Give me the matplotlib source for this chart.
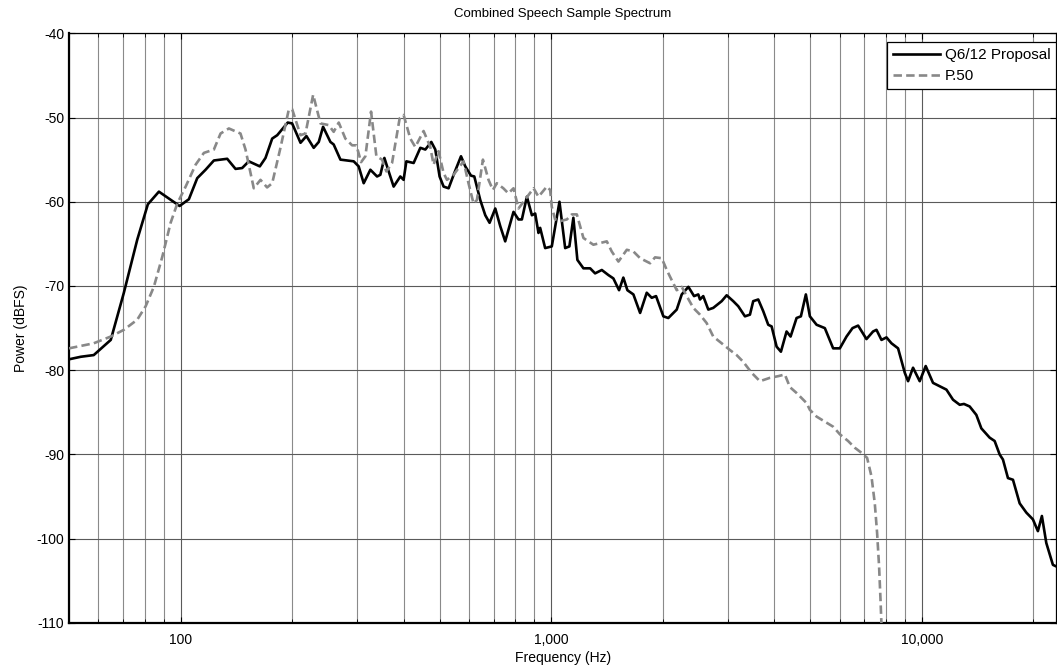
import matplotlib
matplotlib.use("Agg")
import matplotlib.pyplot as plt
from matplotlib.ticker import FixedLocator, LogLocator, NullFormatter

plt.rcParams['font.family'] = ['Liberation Sans', 'DejaVu Sans']
plt.rcParams['axes.unicode_minus'] = False

# Q6/12 proposal spectrum: frequency (Hz) and power (dBFS)
q6_freq = [50, 53.8, 58.3, 64.8, 70.3, 76.4, 81.6, 87.4, 99.4, 105.3, 110.9, 116.8,
           123, 133.6, 140.7, 146.6, 152.8, 163.6, 169.5, 176.7, 182.3, 194.6, 200,
           210.7, 218.6, 228.7, 236, 242.4, 253.7, 258.9, 270, 293.2, 302.4, 312,
           325.2, 339, 346, 354.8, 364.4, 375.8, 391.7, 399.8, 406.7, 425.5, 443.6,
           457.6, 474.9, 486.8, 500, 512.6, 528.8, 547.8, 571.1, 586.5, 607.7, 620.3,
           643.8, 664.1, 682.1, 706.7, 728.9, 751.6, 791.4, 816.4, 833.7, 860, 887.2,
           905.6, 924.3, 934, 963.4, 1004, 1053, 1091, 1120, 1148, 1177, 1222, 1274,
           1314, 1370, 1427, 1472, 1525, 1566, 1606, 1667, 1738, 1811, 1868, 1919,
           2008, 2071, 2182, 2251, 2346, 2430, 2495, 2521, 2573, 2655, 2738, 2885,
           2976, 3100, 3198, 3334, 3439, 3510, 3621, 3736, 3853, 3935, 4059, 4169,
           4318, 4427, 4595, 4720, 4868, 4991, 5203, 5477, 5767, 6012, 6267, 6505,
           6735, 7094, 7391, 7549, 7787, 8033, 8286, 8633, 9000, 9187, 9475, 9876,
           10250, 10727, 11183, 11658, 12147, 12662, 13000, 13470, 14040, 14484,
           15250, 15732, 16229, 16565, 17089, 17629, 18378, 19157, 19953, 20583,
           21100, 21684, 22594, 23100]
q6_db = [-78.7, -78.4, -78.2, -76.4, -70.8, -64.5, -60.3, -58.8, -60.5, -59.7, -57.2,
         -56.2, -55.1, -54.9, -56.1, -56.0, -55.2, -55.8, -54.8, -52.5, -52.1, -50.6,
         -50.7, -53.0, -52.2, -53.6, -52.9, -51.1, -52.9, -53.2, -55.0, -55.2, -55.8,
         -57.8, -56.2, -57.0, -56.8, -54.8, -56.4, -58.2, -57.0, -57.4, -55.2, -55.4,
         -53.6, -53.8, -52.9, -53.8, -57.0, -58.2, -58.4, -56.6, -54.6, -55.8, -56.9,
         -57.0, -59.8, -61.6, -62.5, -60.8, -62.9, -64.7, -61.2, -62.1, -62.1, -59.4,
         -61.6, -61.4, -63.7, -63.1, -65.5, -65.3, -60.0, -65.5, -65.3, -61.9, -66.9,
         -67.9, -67.9, -68.5, -68.1, -68.7, -69.1, -70.5, -69.0, -70.5, -71.0, -73.2,
         -70.8, -71.4, -71.2, -73.6, -73.8, -72.8, -71.0, -70.1, -71.2, -71.0, -71.6,
         -71.2, -72.8, -72.6, -71.8, -71.1, -71.8, -72.4, -73.6, -73.4, -71.8, -71.6,
         -73.0, -74.6, -74.8, -77.2, -77.8, -75.4, -76.0, -73.8, -73.6, -71.0, -73.6,
         -74.6, -75.0, -77.4, -77.4, -76.0, -75.0, -74.7, -76.3, -75.4, -75.2, -76.4,
         -76.1, -76.8, -77.4, -80.3, -81.3, -79.7, -81.3, -79.5, -81.5, -81.9, -82.3,
         -83.5, -84.1, -84.0, -84.3, -85.3, -86.9, -88.0, -88.4, -90.0, -90.6, -92.8,
         -93.0, -95.8, -96.9, -97.7, -99.1, -97.3, -100.5, -103.1, -103.3]

# ITU-T P.50 spectrum
p50_freq = [50, 58.3, 64.8, 70.3, 76.4, 80.5, 84.7, 89.3, 94, 98, 103.2, 109.8, 115.6,
            123, 128.2, 135, 145.1, 149.7, 157.6, 164.3, 171.2, 176.7, 186, 195.8,
            200, 210.7, 217.3, 227.9, 238.5, 251, 258.9, 267.2, 278.4, 290.3, 298.2,
            307, 315.3, 326.6, 337.6, 349.8, 359.2, 372.1, 390.1, 399.8, 416.8,
            429.9, 452.6, 471.9, 481.6, 496.8, 512.6, 523.5, 545.4, 580.1, 598.4,
            617.3, 630.4, 654.4, 677.6, 696.4, 713.4, 743, 766.4, 791.4, 816.4,
            842.1, 896.4, 924.3, 973.6, 993.8, 1004, 1025, 1057.5, 1102.5, 1137,
            1173, 1222, 1300, 1356, 1413, 1457, 1519, 1600, 1667, 1738, 1849, 1907,
            1988, 2051, 2115, 2182, 2251, 2322, 2419, 2521, 2628, 2738, 2885, 3037,
            3166, 3299, 3475, 3659, 3894, 4101, 4272, 4408, 4595, 4890, 4991, 5203,
            5477, 5767, 6012, 6329, 6598, 6878, 7122, 7318, 7470, 7578, 7673, 7740,
            7787, 7830]
p50_db = [-77.4, -76.8, -76.0, -75.2, -74.0, -72.4, -70.1, -66.5, -62.5, -60.2, -58.2,
          -55.6, -54.2, -53.8, -51.9, -51.3, -51.9, -53.8, -58.4, -57.4, -58.3, -57.8,
          -53.6, -49.1, -49.0, -52.1, -51.9, -47.3, -50.7, -50.9, -51.7, -50.6, -52.5,
          -53.3, -53.3, -55.3, -54.6, -49.3, -54.6, -55.0, -56.4, -55.4, -50.1, -49.7,
          -52.5, -53.5, -51.6, -53.5, -55.6, -54.0, -56.6, -57.4, -56.8, -55.2, -57.8,
          -60.2, -59.8, -55.0, -57.4, -58.6, -57.8, -58.4, -59.0, -58.4, -60.8, -60.0,
          -58.4, -59.4, -58.2, -58.6, -60.6, -62.1, -62.3, -62.1, -61.5, -61.5, -64.3,
          -65.1, -64.9, -64.7, -65.9, -67.1, -65.7, -65.9, -66.7, -67.3, -66.6, -66.7,
          -68.1, -69.3, -70.5, -70.1, -71.2, -72.6, -73.4, -74.4, -76.0, -76.8, -77.6,
          -78.2, -79.0, -80.3, -81.3, -80.9, -80.7, -80.5, -82.0, -82.7, -83.9, -84.7,
          -85.5, -86.1, -86.7, -87.6, -88.4, -89.2, -89.8, -90.4, -92.6, -95.8, -99.3,
          -103.3, -107.2, -110.2, -120.0]

x_ticks = [100, 1000, 10000]
x_tick_labels = ['100', '1,000', '10,000']
y_ticks = [-110, -100, -90, -80, -70, -60, -50, -40]

fig = plt.figure(figsize=(10.57, 6.68), dpi=100)
ax = fig.add_axes([0.0653, 0.0674, 0.9342, 0.8828])

ax.semilogx(q6_freq, q6_db, color='black', lw=1.9, label='Q6/12 Proposal', zorder=3)
ax.semilogx(p50_freq, p50_db, color='#888888', lw=1.9, ls=(0, (3.2, 1.6)),
            label='P.50', zorder=3)

ax.set_xlim(50, 23100)
ax.set_ylim(-110, -40)

ax.xaxis.set_major_locator(FixedLocator(x_ticks))
ax.set_xticklabels(x_tick_labels)
ax.xaxis.set_minor_locator(LogLocator(base=10, subs=[2, 3, 4, 5, 6, 7, 8, 9]))
ax.xaxis.set_minor_formatter(NullFormatter())
ax.set_yticks(y_ticks)

ax.grid(True, which='major', color='#5a5a5a', lw=0.8)
ax.grid(True, which='minor', axis='x', color='#8a8a8a', lw=0.8)
ax.set_axisbelow(True)

ax.tick_params(which='both', direction='in', top=True, right=True, labelsize=10,
               color='black')
ax.tick_params(which='major', length=4)
ax.tick_params(which='minor', length=3)
ax.tick_params(axis='x', which='major', pad=7)
for side in ['left', 'bottom']:
    ax.spines[side].set_linewidth(1.6)
for side in ['top', 'right']:
    ax.spines[side].set_linewidth(0.9)

ax.set_title('Combined Speech Sample Spectrum', fontsize=9.5, pad=12)
ax.set_xlabel('Frequency (Hz)', fontsize=10, labelpad=3)
ax.set_ylabel('Power (dBFS)', fontsize=10, labelpad=6)

leg = ax.legend(loc='upper right', bbox_to_anchor=(1.0, 1 - 9 / 590), borderaxespad=0,
                fontsize=11, fancybox=False, framealpha=1, edgecolor='black',
                handlelength=3.1, handletextpad=0.28, borderpad=0.4,
                labelspacing=0.44)
leg.get_frame().set_linewidth(0.9)

fig.savefig('out.png', dpi=100)
